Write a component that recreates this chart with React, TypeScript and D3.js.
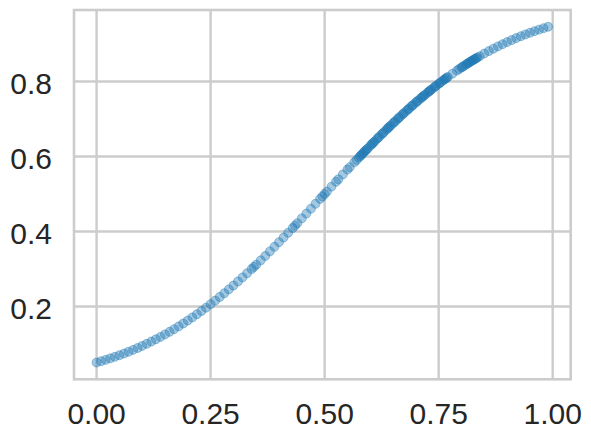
import { scaleLinear, extent } from "d3";

// points (x in [0, 1], y an S-shaped curve)
const xValues = [
  0.0, 0.01, 0.02, 0.03, 0.04, 0.05, 0.06, 0.07, 0.08, 0.09,
  0.1, 0.11, 0.12, 0.13, 0.14, 0.15, 0.16, 0.17, 0.18, 0.19,
  0.2, 0.21, 0.22, 0.23, 0.24, 0.25, 0.26, 0.27, 0.28, 0.29,
  0.3, 0.31, 0.32, 0.33, 0.34, 0.345, 0.35, 0.36, 0.37, 0.38, 0.39,
  0.4, 0.41, 0.42, 0.43, 0.435, 0.44, 0.45, 0.46, 0.47, 0.48, 0.49, 0.495, 0.5,
  0.505, 0.515, 0.525, 0.53, 0.54, 0.55, 0.555, 0.565, 0.57,
  0.575, 0.578, 0.58, 0.585, 0.588, 0.59, 0.595, 0.6, 0.603, 0.605, 0.61, 0.615, 0.62,
  0.625, 0.63, 0.635, 0.638, 0.64, 0.645, 0.65, 0.655, 0.66, 0.665, 0.67,
  0.675, 0.68, 0.683, 0.685, 0.69, 0.695, 0.7, 0.705, 0.71, 0.715, 0.72,
  0.725, 0.728, 0.73, 0.735, 0.74, 0.745, 0.75, 0.755, 0.76, 0.765, 0.77,
  0.78, 0.79, 0.795, 0.8, 0.805, 0.81, 0.815, 0.82, 0.825, 0.83, 0.835, 0.84,
  0.85, 0.86, 0.87, 0.88, 0.89, 0.9, 0.91, 0.92, 0.93, 0.94, 0.95, 0.96, 0.97, 0.98, 0.99,
  0.5825, 0.5925, 0.6075, 0.6175, 0.6275, 0.6425, 0.6525, 0.6625, 0.6725, 0.6925, 0.7025, 0.7125,
  0.7175, 0.7325, 0.7425, 0.7525, 0.7625, 0.7675, 0.8025, 0.8125, 0.8175, 0.8225, 0.8275, 0.8325,
];

const yValues = [
  0.0505, 0.054, 0.0577, 0.0616, 0.0657, 0.07, 0.0745, 0.0792, 0.0842, 0.0893,
  0.0948, 0.1004, 0.1063, 0.1125, 0.1188, 0.1255, 0.1324, 0.1395, 0.1469, 0.1546,
  0.1626, 0.1708, 0.1792, 0.1879, 0.1969, 0.2061, 0.2156, 0.2253, 0.2353, 0.2455,
  0.2559, 0.2666, 0.2775, 0.2886, 0.2999, 0.3056, 0.3114, 0.323, 0.3349, 0.3469, 0.3591,
  0.3715, 0.3839, 0.3965, 0.4092, 0.4156, 0.422, 0.4349, 0.4478, 0.4608, 0.4738, 0.4869, 0.4934, 0.5,
  0.5065, 0.5196, 0.5327, 0.5392, 0.5522, 0.5651, 0.5715, 0.5844, 0.5908,
  0.5971, 0.601, 0.6035, 0.6098, 0.6136, 0.6161, 0.6223, 0.6285, 0.6322, 0.6347, 0.6409, 0.647, 0.6531,
  0.6591, 0.6651, 0.671, 0.6746, 0.677, 0.6828, 0.6886, 0.6943, 0.7001, 0.7057, 0.7114,
  0.7169, 0.7225, 0.7258, 0.7279, 0.7334, 0.7387, 0.7441, 0.7493, 0.7545, 0.7596, 0.7647,
  0.7697, 0.7727, 0.7747, 0.7795, 0.7844, 0.7891, 0.7939, 0.7985, 0.8031, 0.8076, 0.8121,
  0.8208, 0.8292, 0.8333, 0.8374, 0.8414, 0.8454, 0.8492, 0.8531, 0.8568, 0.8605, 0.864, 0.8676,
  0.8745, 0.8812, 0.8875, 0.8937, 0.8996, 0.9052, 0.9107, 0.9158, 0.9208, 0.9255, 0.93, 0.9343, 0.9384, 0.9423, 0.946,
  0.6067, 0.6192, 0.6378, 0.6501, 0.6621, 0.6799, 0.6915, 0.7029, 0.7142, 0.7361, 0.7467, 0.7571,
  0.7622, 0.7771, 0.7868, 0.7962, 0.8054, 0.8099, 0.8394, 0.8473, 0.8512, 0.855, 0.8587, 0.8623,
];

const xTicks = [0, 0.25, 0.5, 0.75, 1.0];
const xTickLabels = ["0.00", "0.25", "0.50", "0.75", "1.00"];
const yTicks = [0.2, 0.4, 0.6, 0.8];
const yTickLabels = ["0.2", "0.4", "0.6", "0.8"];

const width = 591;
const height = 440;
const left = 74;
const right = 570.7;
const top = 10;
const bottom = 379.3;

// matplotlib style 5% margins around the data
function padded([lo, hi]: [number, number]) {
  const m = (hi - lo) * 0.05;
  return [lo - m, hi + m];
}

export default function App() {
  const xScale = scaleLinear()
    .domain(padded(extent(xValues) as [number, number]))
    .range([left, right]);
  const yScale = scaleLinear()
    .domain(padded(extent(yValues) as [number, number]))
    .range([bottom, top]);

  const gridColor = "#cccccc";
  const textColor = "#262626";
  const font = "'Liberation Sans', Arial, sans-serif";

  return (
    <>
      <style>{"body{margin:0}"}</style>
      <svg width={width} height={height} style={{ display: "block", background: "#fff" }}>
        {/* grid */}
        {xTicks.map((t) => (
          <line key={"gx" + t} x1={xScale(t)} x2={xScale(t)} y1={top} y2={bottom} stroke={gridColor} strokeWidth={2.4} />
        ))}
        {yTicks.map((t) => (
          <line key={"gy" + t} x1={left} x2={right} y1={yScale(t)} y2={yScale(t)} stroke={gridColor} strokeWidth={2.4} />
        ))}

        {/* points */}
        {xValues.map((x, i) => (
          <circle
            key={i}
            cx={xScale(x)}
            cy={yScale(yValues[i])}
            r={4.5}
            fill="#1f77b4"
            fillOpacity={0.4}
            stroke="#1f77b4"
            strokeOpacity={0.4}
            strokeWidth={1}
          />
        ))}

        {/* frame */}
        <rect x={left} y={top} width={right - left} height={bottom - top} fill="none" stroke={gridColor} strokeWidth={2.6} />

        {/* tick labels */}
        {xTicks.map((t, i) => (
          <text key={"lx" + t} x={xScale(t)} y={423.5} textAnchor="middle" fontSize={30} fontFamily={font} fill={textColor}>
            {xTickLabels[i]}
          </text>
        ))}
        {yTicks.map((t, i) => (
          <text key={"ly" + t} x={52} y={yScale(t) + 12.5} textAnchor="end" fontSize={30} fontFamily={font} fill={textColor}>
            {yTickLabels[i]}
          </text>
        ))}
      </svg>
    </>
  );
}
